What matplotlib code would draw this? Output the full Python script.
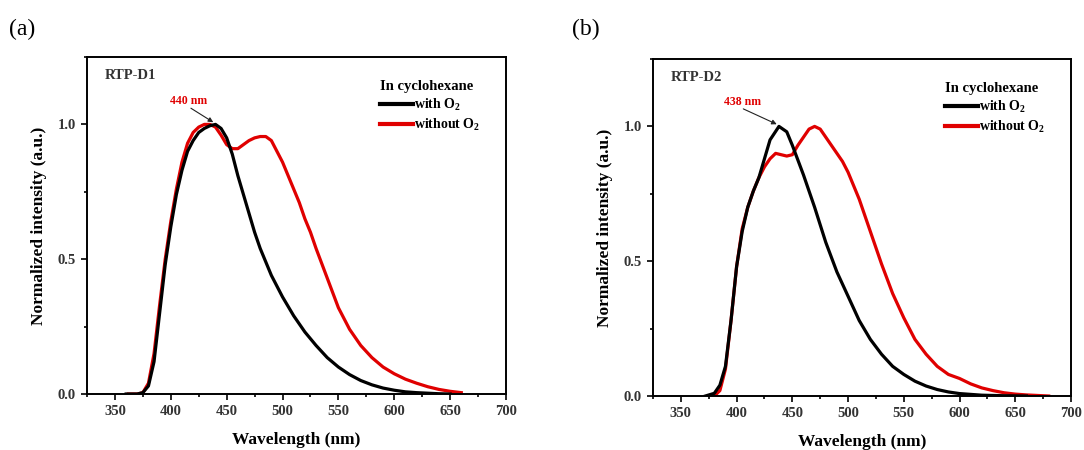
import numpy as np
import matplotlib
matplotlib.use("Agg")
import matplotlib.pyplot as plt
from matplotlib.ticker import MultipleLocator

plt.rcParams["font.family"] = ["Liberation Serif", "DejaVu Serif"]
plt.rcParams["mathtext.fontset"] = "custom"
plt.rcParams["mathtext.rm"] = "Liberation Serif:bold"
plt.rcParams["mathtext.bf"] = "Liberation Serif:bold"

RED = "#e00000"

# ── panel (a): RTP-D1 ────────────────────────────────────────────────
a_with_x = [360, 370, 375, 380, 385, 390, 395, 400, 405, 410, 415, 420, 425, 430, 435,
            440, 445, 450, 455, 460, 465, 470, 475, 480, 485, 490, 495, 500, 510, 520,
            530, 540, 550, 560, 570, 580, 590, 600, 610, 620, 630, 640, 650]
a_with_y = [0.0, 0.0, 0.005, 0.03, 0.12, 0.30, 0.48, 0.62, 0.74, 0.83, 0.90, 0.94, 0.97, 0.985, 0.995,
            1.0, 0.985, 0.95, 0.89, 0.81, 0.74, 0.67, 0.60, 0.54, 0.49, 0.44, 0.40, 0.36, 0.29, 0.23,
            0.18, 0.135, 0.10, 0.072, 0.05, 0.034, 0.022, 0.014, 0.008, 0.005, 0.003, 0.001, 0.0]

a_wo_x = [362, 370, 375, 380, 385, 390, 395, 400, 405, 410, 415, 420, 425, 430, 435,
          440, 445, 450, 455, 460, 465, 470, 475, 480, 485, 490, 495, 500, 505, 510,
          515, 520, 525, 530, 540, 550, 560, 570, 580, 590, 600, 610, 620, 630, 640,
          650, 660]
a_wo_y = [0.0, 0.0, 0.005, 0.04, 0.15, 0.33, 0.50, 0.64, 0.76, 0.86, 0.93, 0.97, 0.99, 1.0, 1.0,
          0.99, 0.96, 0.925, 0.91, 0.91, 0.925, 0.94, 0.95, 0.955, 0.955, 0.94, 0.90, 0.86, 0.81, 0.76,
          0.71, 0.65, 0.60, 0.54, 0.43, 0.32, 0.24, 0.18, 0.135, 0.10, 0.075, 0.055, 0.04, 0.027, 0.017,
          0.01, 0.005]

# ── panel (b): RTP-D2 ────────────────────────────────────────────────
b_with_x = [372, 380, 385, 390, 395, 400, 405, 410, 415, 420, 425, 430, 438, 445, 450,
            460, 470, 480, 490, 500, 510, 520, 530, 540, 550, 560, 570, 580, 590, 600,
            620, 640, 660]
b_with_y = [0.0, 0.01, 0.04, 0.11, 0.28, 0.48, 0.61, 0.70, 0.76, 0.81, 0.88, 0.95, 1.0, 0.98, 0.93,
            0.82, 0.70, 0.57, 0.46, 0.37, 0.28, 0.21, 0.155, 0.11, 0.08, 0.055, 0.037, 0.024, 0.015, 0.009,
            0.003, 0.001, 0.0]

b_wo_x = [375, 380, 385, 390, 395, 400, 405, 410, 415, 420, 425, 430, 435, 440, 445,
          450, 455, 460, 465, 470, 475, 480, 485, 490, 495, 500, 505, 510, 515, 520,
          525, 530, 540, 550, 560, 570, 580, 590, 600, 610, 620, 630, 640, 650, 660,
          670, 680]
b_wo_y = [0.0, 0.0, 0.02, 0.10, 0.28, 0.48, 0.62, 0.70, 0.76, 0.81, 0.85, 0.88, 0.90, 0.895, 0.89,
          0.895, 0.93, 0.96, 0.99, 1.0, 0.99, 0.96, 0.93, 0.90, 0.87, 0.83, 0.78, 0.73, 0.67, 0.61,
          0.55, 0.49, 0.38, 0.29, 0.21, 0.155, 0.11, 0.08, 0.065, 0.045, 0.03, 0.02, 0.012, 0.007, 0.004,
          0.002, 0.0]

panels = [
    dict(rect=[87 / 1084, 56 / 450, 419 / 1084, 337 / 450], letter="(a)", lx=0.008,
         name="RTP-D1", peak=440, peak_txt="440 nm", txt_xy=(399, 1.085), arr_from=(418, 1.06),
         data=(a_with_x, a_with_y, a_wo_x, a_wo_y)),
    dict(rect=[653 / 1084, 54 / 450, 418 / 1084, 337 / 450], letter="(b)", lx=0.528,
         name="RTP-D2", peak=438, peak_txt="438 nm", txt_xy=(389, 1.09), arr_from=(406, 1.065),
         data=(b_with_x, b_with_y, b_wo_x, b_wo_y)),
]

fig = plt.figure(figsize=(10.84, 4.5), dpi=100)
fig.patch.set_facecolor("white")

for p in panels:
    ax = fig.add_axes(p["rect"])
    wx, wy, ox, oy = p["data"]
    ax.plot(wx, wy, color="black", lw=2.3, label="with O$_{2}$", zorder=3)
    ax.plot(ox, oy, color=RED, lw=2.3, label="without O$_{2}$", zorder=2)

    ax.set_xlim(325, 700)
    ax.set_ylim(0, 1.25)
    ax.xaxis.set_major_locator(MultipleLocator(50))
    ax.xaxis.set_minor_locator(MultipleLocator(25))
    ax.yaxis.set_major_locator(MultipleLocator(0.5))
    ax.yaxis.set_minor_locator(MultipleLocator(0.25))
    ax.tick_params(which="both", direction="out", width=1.2, labelsize=10.5)
    ax.tick_params(which="major", length=4.5)
    ax.tick_params(which="minor", length=2.5)
    for lab in ax.get_xticklabels() + ax.get_yticklabels():
        lab.set_fontweight("bold")
        lab.set_color("#333333")
    for s in ax.spines.values():
        s.set_linewidth(1.4)

    ax.set_xlabel("Wavelength (nm)", fontsize=12.5, fontweight="bold", labelpad=10)
    ax.set_ylabel("Normalized intensity (a.u.)", fontsize=12.5, fontweight="bold", labelpad=8)

    ax.text(341, 1.18, p["name"], fontsize=10.5, fontweight="bold", color="#333333",
            ha="left", va="center")
    # peak label and arrow
    ax.text(p["txt_xy"][0], p["txt_xy"][1], p["peak_txt"], fontsize=8.5, fontweight="bold",
            color=RED, ha="left", va="center")
    ax.annotate("", xy=(p["peak"] - 2, 1.008), xytext=p["arr_from"],
                arrowprops=dict(arrowstyle="-|>", color="#222222", lw=0.8,
                                mutation_scale=7, shrinkA=0, shrinkB=0))

    leg = ax.legend(loc="upper left", bbox_to_anchor=(0.675, 0.96), frameon=False,
                    title="In cyclohexane", alignment="left",
                    prop=dict(weight="bold", size=10),
                    handlelength=2.4, handletextpad=0.05, labelspacing=0.25,
                    borderpad=0.2)
    leg.get_title().set_fontweight("bold")
    leg.get_title().set_fontsize(10.5)
    for line in leg.get_lines():
        line.set_linewidth(3)

    fig.text(p["lx"], 0.935, p["letter"], fontsize=17, ha="left", va="center")

plt.savefig("out.png", dpi=100, facecolor="white")
